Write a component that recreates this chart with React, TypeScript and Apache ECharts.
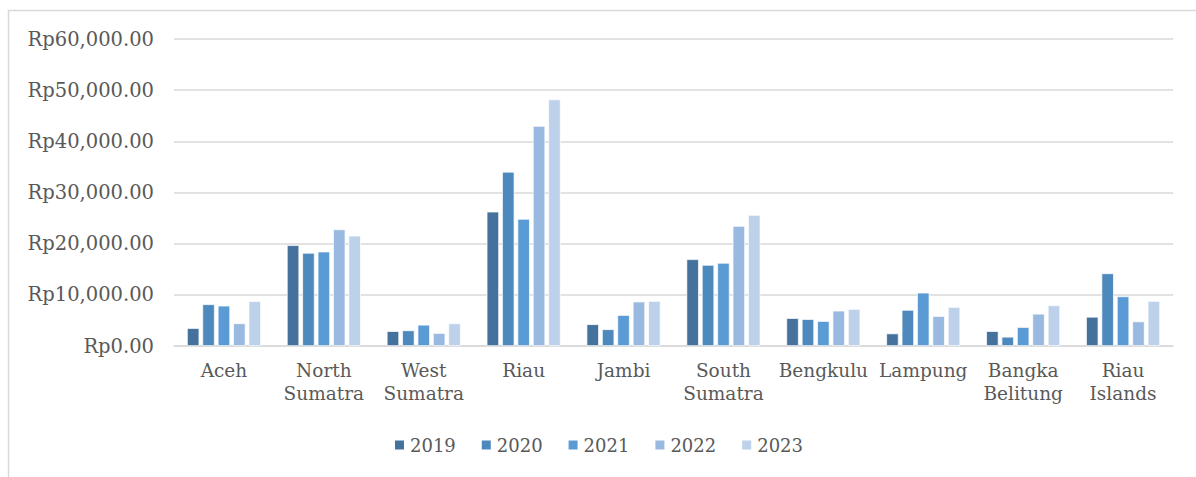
import React, { useEffect, useRef } from "react";
import * as echarts from "echarts";

const categories = [
  "Aceh",
  "North\nSumatra",
  "West\nSumatra",
  "Riau",
  "Jambi",
  "South\nSumatra",
  "Bengkulu",
  "Lampung",
  "Bangka\nBelitung",
  "Riau\nIslands",
];

const years = ["2019", "2020", "2021", "2022", "2023"];

const v2019 = [3500, 19700, 2900, 26250, 4250, 16950, 5450, 2450, 2900, 5700];
const v2020 = [8150, 18200, 3050, 34050, 3270, 15850, 5250, 7050, 1800, 14200];
const v2021 = [7880, 18450, 4150, 24850, 6050, 16250, 4870, 10420, 3700, 9700];
const v2022 = [4420, 22800, 2530, 43000, 8680, 23450, 6900, 5850, 6300, 4800];
const v2023 = [8750, 21550, 4420, 48180, 8800, 25600, 7230, 7620, 7950, 8800];

const seriesValues = [v2019, v2020, v2021, v2022, v2023];
const colors = ["#44729D", "#4E89BD", "#5B9BD5", "#9AB9E0", "#BDD1EA"];

const yTicks = { min: 0, max: 60000, interval: 10000 };

function formatRp(v: number): string {
  const s = Math.round(v).toString().replace(/\B(?=(\d{3})+(?!\d))/g, ",");
  return "Rp" + s + ".00";
}

const FONT = "'DejaVu Serif', Georgia, serif";

export default function App() {
  const ref = useRef<HTMLDivElement>(null);
  useEffect(() => {
    document.body.style.margin = "0";
    const chart = echarts.init(ref.current!, null, { renderer: "svg" });
    chart.setOption({
      animation: false,
      backgroundColor: "#ffffff",
      textStyle: { fontFamily: FONT },
      graphic: [
        {
          type: "rect",
          shape: { x: 8.5, y: 10.5, width: 1300, height: 600 },
          style: { fill: "none", stroke: "#d9d9d9", lineWidth: 1.5 },
          silent: true,
          z: -1,
        },
      ],
      grid: { left: 174, right: 23, top: 39, bottom: 131, containLabel: false },
      legend: {
        data: years,
        bottom: 18,
        left: "center",
        icon: "rect",
        itemWidth: 11,
        itemHeight: 11,
        itemGap: 24,
        textStyle: { fontFamily: FONT, fontSize: 18, color: "#595959" },
      },
      xAxis: {
        type: "category",
        data: categories,
        axisTick: { show: false },
        axisLine: { lineStyle: { color: "#d9d9d9", width: 1.5 } },
        axisLabel: {
          fontFamily: FONT,
          fontSize: 18.5,
          color: "#595959",
          margin: 13,
          lineHeight: 23,
          interval: 0,
        },
      },
      yAxis: {
        type: "value",
        min: yTicks.min,
        max: yTicks.max,
        interval: yTicks.interval,
        axisLine: { show: false },
        axisTick: { show: false },
        splitLine: { lineStyle: { color: "#d9d9d9", width: 1.5 } },
        axisLabel: {
          fontFamily: FONT,
          fontSize: 19.5,
          color: "#595959",
          margin: 20,
          formatter: (v: number) => formatRp(v),
        },
      },
      series: years.map((y, i) => ({
        name: y,
        type: "bar",
        data: seriesValues[i],
        barGap: "25%",
        barCategoryGap: "26%",
        itemStyle: { color: colors[i], borderColor: "#ffffff", borderWidth: 0.7 },
      })),
    });
    return () => chart.dispose();
  }, []);
  return <div ref={ref} style={{ width: 1196, height: 477 }} />;
}
